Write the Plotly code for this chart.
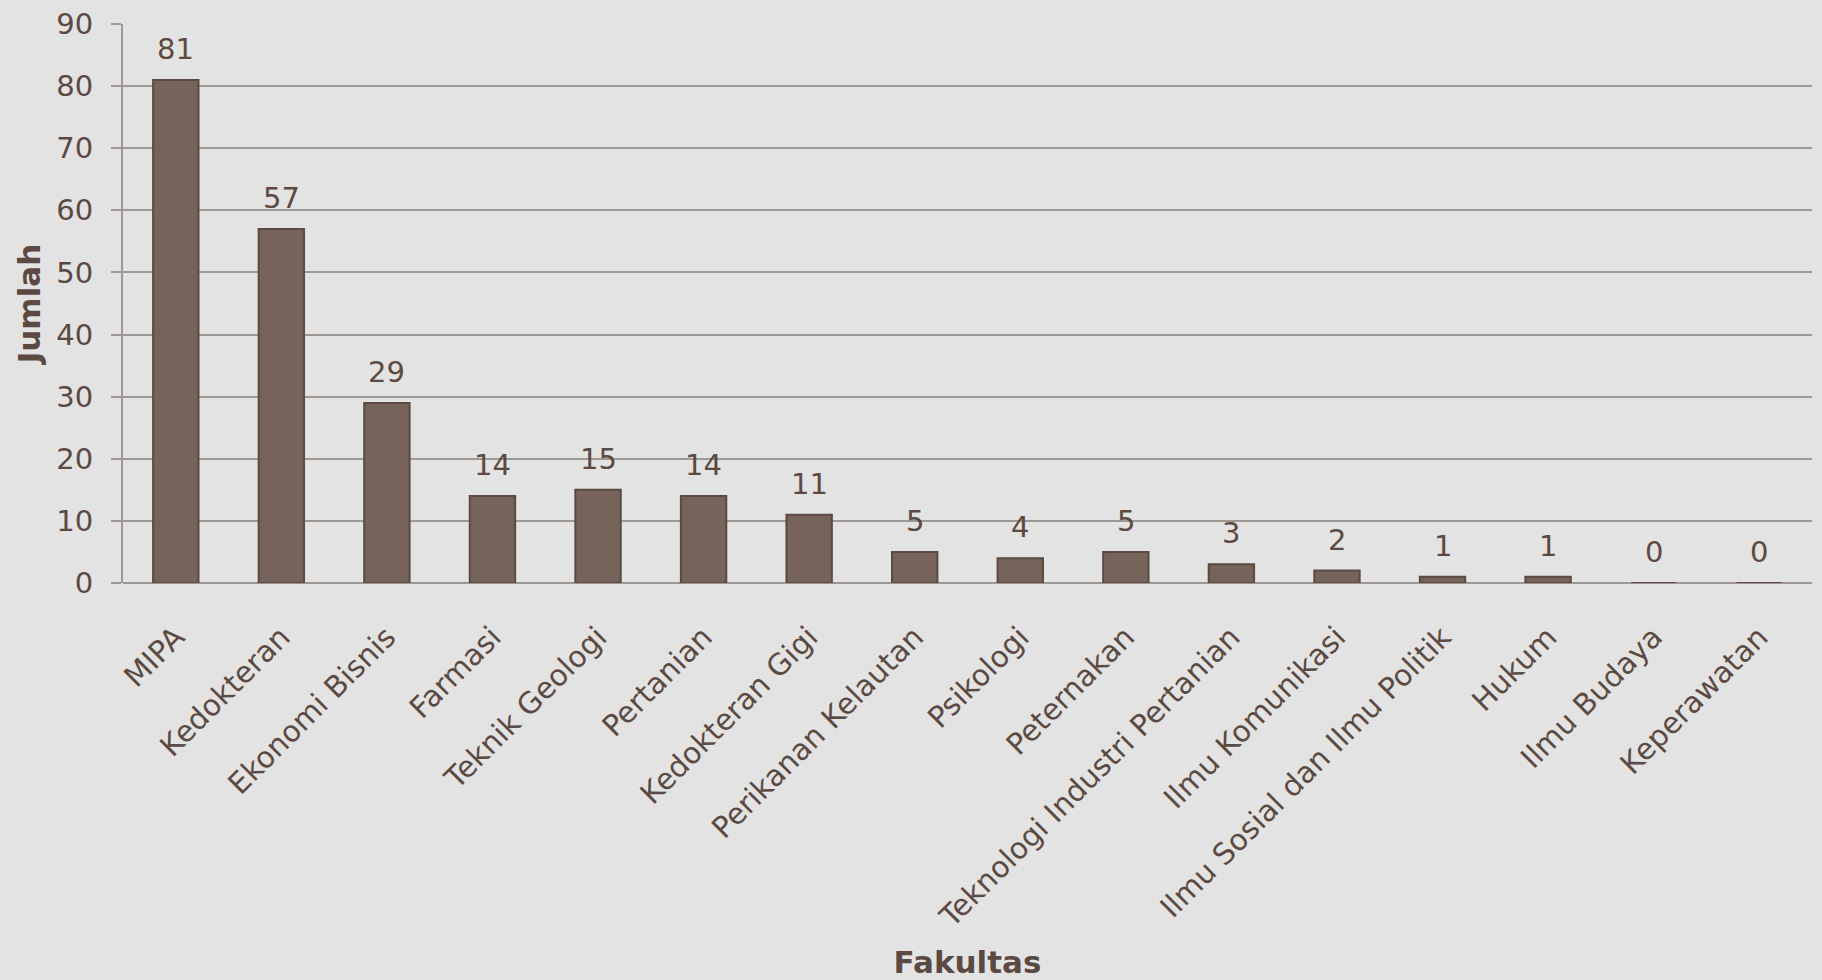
import plotly.graph_objects as go

categories = ["MIPA", "Kedokteran", "Ekonomi Bisnis", "Farmasi", "Teknik Geologi",
              "Pertanian", "Kedokteran Gigi", "Perikanan Kelautan", "Psikologi",
              "Peternakan", "Teknologi Industri Pertanian", "Ilmu Komunikasi",
              "Ilmu Sosial dan Ilmu Politik", "Hukum", "Ilmu Budaya", "Keperawatan"]
values = [81, 57, 29, 14, 15, 14, 11, 5, 4, 5, 3, 2, 1, 1, 0, 0]
y_ticks = [0, 10, 20, 30, 40, 50, 60, 70, 80, 90]

TEXT = "#5b4a42"
GRID = "#9d9896"
FONT = "DejaVu Sans"

fig = go.Figure()
fig.add_trace(go.Bar(
    x=categories, y=values,
    marker=dict(color="#76645a", line=dict(color="#5a4a42", width=2)),
    cliponaxis=False,
))

for c, v in zip(categories, values):
    fig.add_annotation(x=c, y=v, text=str(v), showarrow=False,
                       yanchor="bottom", yshift=12,
                       font=dict(family=FONT, size=29, color=TEXT))

fig.update_layout(
    width=1822, height=980,
    paper_bgcolor="#e3e3e3", plot_bgcolor="#e3e3e3",
    margin=dict(l=123, r=10, t=24, b=397),
    bargap=0.57,
    showlegend=False,
    font=dict(family=FONT, color=TEXT),
)
fig.update_xaxes(
    automargin=False,
    tickangle=-45, tickfont=dict(family=FONT, size=29.5, color=TEXT),
    showgrid=False, showline=False, ticks="outside", ticklen=0,
    ticklabelstandoff=24,
    title=dict(text="<b>Fakultas</b>", font=dict(family=FONT, size=31, color=TEXT), standoff=34),
)
fig.update_yaxes(
    automargin=False,
    range=[0, 90], tickvals=y_ticks,
    tickfont=dict(family=FONT, size=29, color=TEXT),
    showgrid=True, gridcolor=GRID, gridwidth=2,
    showline=True, linecolor=GRID, linewidth=2,
    ticks="outside", ticklen=10, tickcolor=GRID, tickwidth=2,
    ticklabelstandoff=12,
    zeroline=True, zerolinecolor=GRID, zerolinewidth=2,
    title=dict(text="<b>Jumlah</b>", font=dict(family=FONT, size=31, color=TEXT), standoff=6),
)

fig.write_html("out.html", config={"displayModeBar": False},
               post_script="document.body.style.margin='0';")
